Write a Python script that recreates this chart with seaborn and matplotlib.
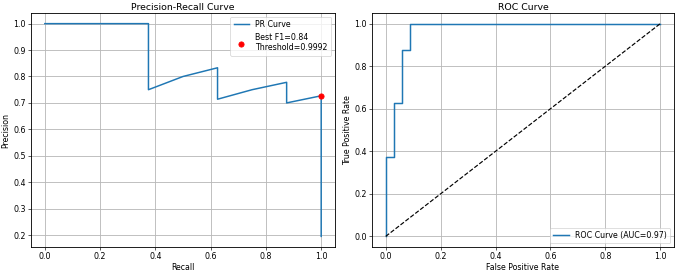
import numpy as np
import pandas as pd
import matplotlib
matplotlib.use("Agg")
import matplotlib.pyplot as plt
import seaborn as sns

# PR curve (sklearn order: recall decreasing)
recall = [1.0, 1.0, 0.875, 0.875, 0.75, 0.625, 0.625, 0.5, 0.375, 0.375, 0.0]
precision = [0.195, 0.727, 0.700, 0.778, 0.750, 0.714, 0.833, 0.800, 0.750, 1.0, 1.0]
best_recall = 1.0
best_precision = 0.727
best_f1 = 0.84
best_threshold = 0.9992

# ROC curve
fpr = [0.0, 0.0, 0.03, 0.03, 0.06, 0.06, 0.09, 0.09, 1.0]
tpr = [0.0, 0.375, 0.375, 0.625, 0.625, 0.875, 0.875, 1.0, 1.0]
auc = 0.97

W, H = 677, 271
DPI = 56.4
fig = plt.figure(figsize=(W / DPI, H / DPI), dpi=DPI)
plt.rcParams["axes.linewidth"] = 1.1

def box(x0, x1, ytop, ybot):
    return [x0 / W, 1 - ybot / H, (x1 - x0) / W, (ybot - ytop) / H]

ax1 = fig.add_axes(box(31, 335, 13, 247))
ax2 = fig.add_axes(box(372, 674, 13, 247))

ax = ax1
pr_df = pd.DataFrame({"Recall": recall, "Precision": precision})
sns.lineplot(data=pr_df, x="Recall", y="Precision", sort=False, ax=ax,
             label="PR Curve", color="#1f77b4", estimator=None, linewidth=1.9)
ax.scatter([best_recall], [best_precision], color="red", s=45, zorder=5,
           label=f"Best F1={best_f1:.2f}\nThreshold={best_threshold:.4f}")
ax.set_title("Precision-Recall Curve", pad=4)
ax.set_xlabel("Recall", labelpad=2)
ax.set_ylabel("Precision", labelpad=3)
ax.grid(True, linewidth=1.1, color="#b8b8b8")
ax.legend(loc="upper right")

ax = ax2
roc_df = pd.DataFrame({"fpr": fpr, "tpr": tpr})
sns.lineplot(data=roc_df, x="fpr", y="tpr", sort=False, ax=ax,
             label=f"ROC Curve (AUC={auc:.2f})", color="#1f77b4", estimator=None,
             linewidth=1.9)
ax.plot([0, 1], [0, 1], "k--", linewidth=1.5)
ax.set_title("ROC Curve", pad=4)
ax.set_xlabel("False Positive Rate", labelpad=2)
ax.set_ylabel("True Positive Rate", labelpad=3)
ax.grid(True, linewidth=1.1, color="#b8b8b8")
ax.legend(loc="lower right")

fig.savefig("out.png", dpi=DPI)
